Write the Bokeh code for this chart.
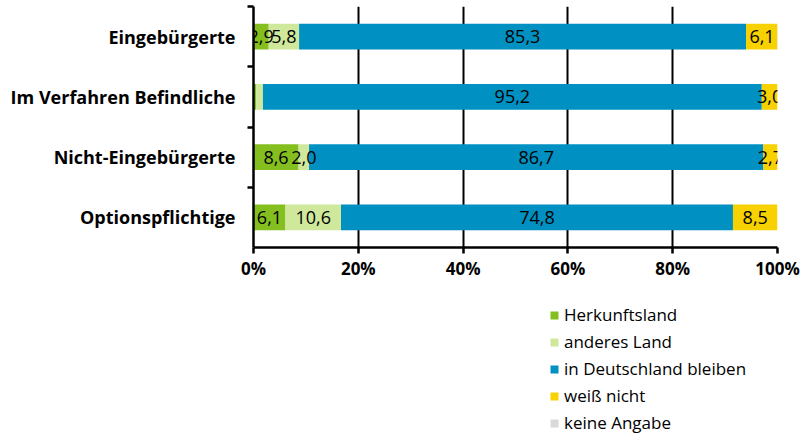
import numpy as np
from bokeh.plotting import figure
from bokeh.layouts import column
from bokeh.models import FixedTicker, Legend, LegendItem, ColumnDataSource, Range1d
from bokeh.core.properties import value
from bokeh.embed import file_html
from bokeh.resources import INLINE

categories = ["Eingebürgerte", "Im Verfahren Befindliche", "Nicht-Eingebürgerte", "Optionspflichtige"]
series_names = ["Herkunftsland", "anderes Land", "in Deutschland bleiben", "weiß nicht", "keine Angabe"]
herkunftsland = [2.9, 0.5, 8.6, 6.1]
anderes_land = [5.8, 1.3, 2.0, 10.6]
in_deutschland = [85.3, 95.2, 86.7, 74.8]
weiss_nicht = [6.1, 3.0, 2.7, 8.5]
keine_angabe = [0.0, 0.0, 0.0, 0.0]
x_ticks = [0, 20, 40, 60, 80, 100]
x_tick_labels = ["0%", "20%", "40%", "60%", "80%", "100%"]
colors = ["#84BF1F", "#CFE89C", "#0090C2", "#F7D100", "#D9D9D9"]

series = [herkunftsland, anderes_land, in_deutschland, weiss_nicht, keine_angabe]
FONT = "Open Sans"

n = len(categories)
ypos = [n - i for i in range(n)]  # top category first

BL, BR = 253, 29
p = figure(width=806, height=282, x_range=(0, 100), y_range=(0.5, n + 0.5),
           output_backend="svg", toolbar_location=None,
           min_border_left=BL, min_border_right=BR, min_border_top=6, min_border_bottom=30)
p.outline_line_color = None
p.background_fill_color = "white"

# legend figure (same horizontal borders so the column keeps frames aligned)
pl = figure(width=806, height=152, x_range=Range1d(0, 100), y_range=Range1d(-10, -9),
            output_backend="svg", toolbar_location=None,
            min_border_left=BL, min_border_right=BR, min_border_top=0, min_border_bottom=0)
pl.outline_line_color = None
pl.axis.visible = False
pl.grid.grid_line_color = None

left = np.zeros(n)
items = []
lx, ly, lt = [], [], []
for name, vals, col in zip(series_names, series, colors):
    vals = np.array(vals, dtype=float)
    right = left + vals
    src_bar = ColumnDataSource(dict(y=ypos, left=left, right=right))
    p.hbar(y="y", left="left", right="right", source=src_bar, height=0.43,
           fill_color=col, line_color=None)
    # zero-size proxy renderer (draws nothing) that carries the legend swatch
    r = pl.hbar(y="y", left="left", right="left", source=src_bar, height=0,
                fill_color=col, line_color=None)
    items.append(LegendItem(label=name, renderers=[r]))
    for yi, l, v in zip(ypos, left, vals):
        if v >= 2.0:
            lx.append(l + v / 2)
            ly.append(yi)
            lt.append(f"{v:.1f}".replace(".", ","))
    left = right

src = ColumnDataSource(dict(x=lx, y=ly, t=lt))
p.text(x="x", y="y", text="t", source=src, text_align="center", text_baseline="middle",
       text_font=value(FONT), text_font_size="18px", text_color="black")

# x axis
p.xaxis.ticker = FixedTicker(ticks=x_ticks, minor_ticks=[])
p.xaxis.major_label_overrides = {t: l for t, l in zip(x_ticks, x_tick_labels)}
p.xaxis.axis_line_width = 2.5
p.xaxis.axis_line_color = "black"
p.xaxis.major_tick_out = 6
p.xaxis.major_tick_in = 0
p.xaxis.major_tick_line_width = 2.5
p.xaxis.major_tick_line_color = "black"
p.xaxis.major_label_text_font = FONT
p.xaxis.major_label_text_font_style = "bold"
p.xaxis.major_label_text_font_size = "17px"
p.xaxis.major_label_text_color = "black"
p.xaxis.major_label_standoff = 3

# y axis
p.yaxis.ticker = FixedTicker(ticks=ypos, minor_ticks=[k + 0.5 for k in range(1, n + 1)])
p.yaxis.major_label_overrides = {y: c for y, c in zip(ypos, categories)}
p.yaxis.axis_line_width = 2.5
p.yaxis.axis_line_color = "black"
p.yaxis.major_tick_out = 0
p.yaxis.major_tick_in = 0
p.yaxis.minor_tick_out = 6
p.yaxis.minor_tick_in = 0
p.yaxis.minor_tick_line_width = 2.5
p.yaxis.minor_tick_line_color = "black"
p.yaxis.major_label_text_font = FONT
p.yaxis.major_label_text_font_style = "bold"
p.yaxis.major_label_text_font_size = "18px"
p.yaxis.major_label_text_color = "black"
p.yaxis.major_label_standoff = 12

p.xgrid.ticker = FixedTicker(ticks=x_ticks)
p.xgrid.grid_line_color = "black"
p.xgrid.grid_line_width = 2
p.ygrid.grid_line_color = None

legend = Legend(items=items, location=(296, 0), orientation="vertical",
                glyph_width=10, glyph_height=10, label_height=21, spacing=4,
                padding=0, margin=0, border_line_color=None, background_fill_alpha=0,
                label_text_font=FONT, label_text_font_size="17px", label_text_color="black",
                label_standoff=5)
pl.add_layout(legend, "center")

layout = column(p, pl, spacing=0)
open("out.html", "w").write(file_html(layout, INLINE))
